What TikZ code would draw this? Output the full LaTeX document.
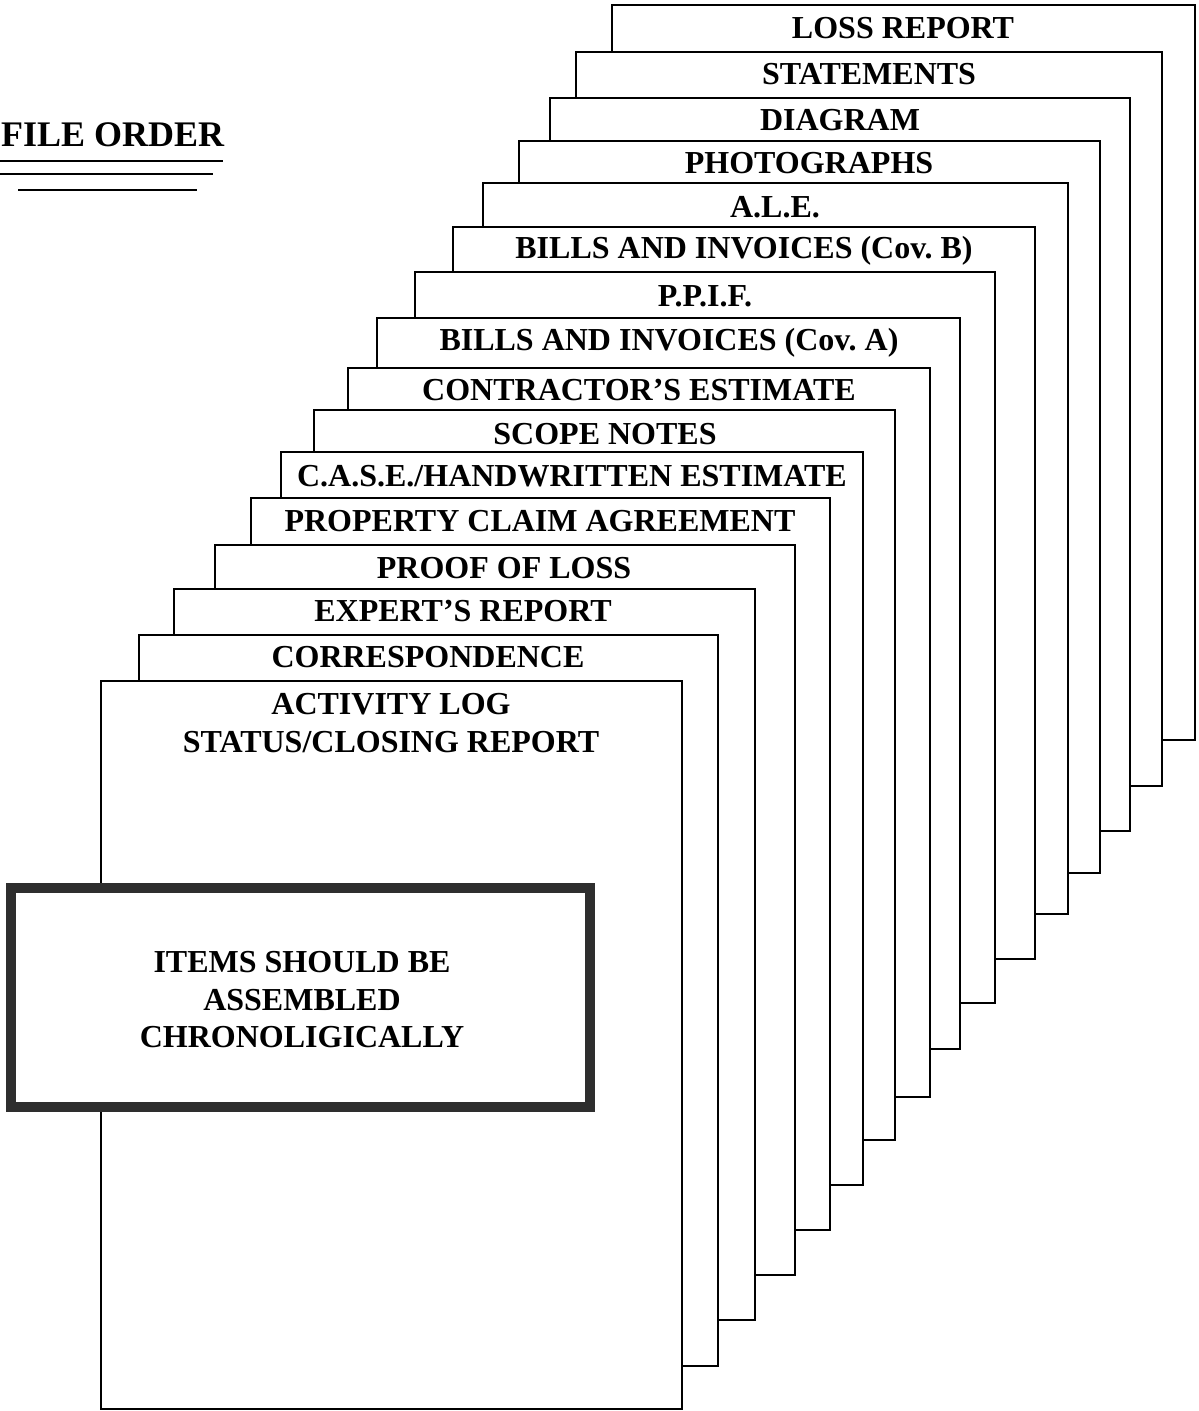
\documentclass[tikz,border=0pt]{standalone}
\usepackage{fontspec}
\setmainfont{Liberation Serif}
\usepackage{tikz}

\tikzset{
  sheet/.style={draw=black, fill=white, line width=2.2pt},
  tab/.style={font=\bfseries\fontsize{32}{38}\selectfont, inner sep=0pt, align=center},
  notebox/.style={draw=black!82, fill=white, line width=10pt},
}

\begin{document}
\begin{tikzpicture}[x=1pt, y=-1pt]
	%%%%% START %%%%%
	\useasboundingbox (0, 0) rectangle (1199, 1411);
	\fill[white] (0, 0) rectangle (1199, 1411);

	% title
	\node[tab, font=\bfseries\fontsize{36}{40}\selectfont, anchor=west] (title) at (1, 135) {FILE ORDER};
	\draw[line width=2.4pt] (0, 161) -- (223, 161);
	\draw[line width=2.2pt] (0, 174) -- (213, 174);
	\draw[line width=2.0pt] (18, 190) -- (197, 190);

	% sheets, back to front
	\draw[sheet] (612, 5) rectangle (1195, 740);
	\node[tab] (loss) at (903, 28) {LOSS REPORT};

	\draw[sheet] (576, 52) rectangle (1162, 786);
	\node[tab] (stmt) at (869, 74) {STATEMENTS};

	\draw[sheet] (550, 98) rectangle (1130, 831);
	\node[tab] (diag) at (840, 120) {DIAGRAM};

	\draw[sheet] (519, 141) rectangle (1100, 873);
	\node[tab] (photo) at (809, 163) {PHOTOGRAPHS};

	\draw[sheet] (483, 183) rectangle (1068, 914);
	\node[tab] (ale) at (775, 207) {A.L.E.};

	\draw[sheet] (453, 227) rectangle (1035, 959);
	\node[tab] (billsb) at (744, 251) {BILLS AND INVOICES (Cov.\ B)};

	\draw[sheet] (415, 272) rectangle (995, 1003);
	\node[tab] (ppif) at (705, 296) {P.P.I.F.};

	\draw[sheet] (377, 318) rectangle (960, 1049);
	\node[tab] (billsa) at (669, 343) {BILLS AND INVOICES (Cov.\ A)};

	\draw[sheet] (348, 368) rectangle (930, 1097);
	\node[tab] (contr) at (639, 390) {CONTRACTOR'S ESTIMATE};

	\draw[sheet] (314, 410) rectangle (895, 1140);
	\node[tab] (scope) at (605, 434) {SCOPE NOTES};

	\draw[sheet] (281, 452) rectangle (863, 1185);
	\node[tab] (case) at (572, 476) {C.A.S.E./HANDWRITTEN ESTIMATE};

	\draw[sheet] (251, 498) rectangle (830, 1230);
	\node[tab] (pca) at (540, 521) {PROPERTY CLAIM AGREEMENT};

	\draw[sheet] (215, 545) rectangle (795, 1275);
	\node[tab] (proof) at (504, 568) {PROOF OF LOSS};

	\draw[sheet] (174, 589) rectangle (755, 1320);
	\node[tab] (expert) at (463, 611) {EXPERT'S REPORT};

	\draw[sheet] (139, 635) rectangle (718, 1366);
	\node[tab] (corr) at (428, 657) {CORRESPONDENCE};

	\draw[sheet] (101, 681) rectangle (682, 1409);
	\node[tab] (activity) at (391, 723) {ACTIVITY LOG\\STATUS/CLOSING REPORT};

	% note box on the front sheet
	\draw[notebox] (11, 888) rectangle (590, 1107);
	\node[tab, font=\bfseries\fontsize{32}{37.5}\selectfont] (note) at (302, 1000) {ITEMS SHOULD BE\\ASSEMBLED\\CHRONOLIGICALLY};
	%%%%% END %%%%%
\end{tikzpicture}
\end{document}
